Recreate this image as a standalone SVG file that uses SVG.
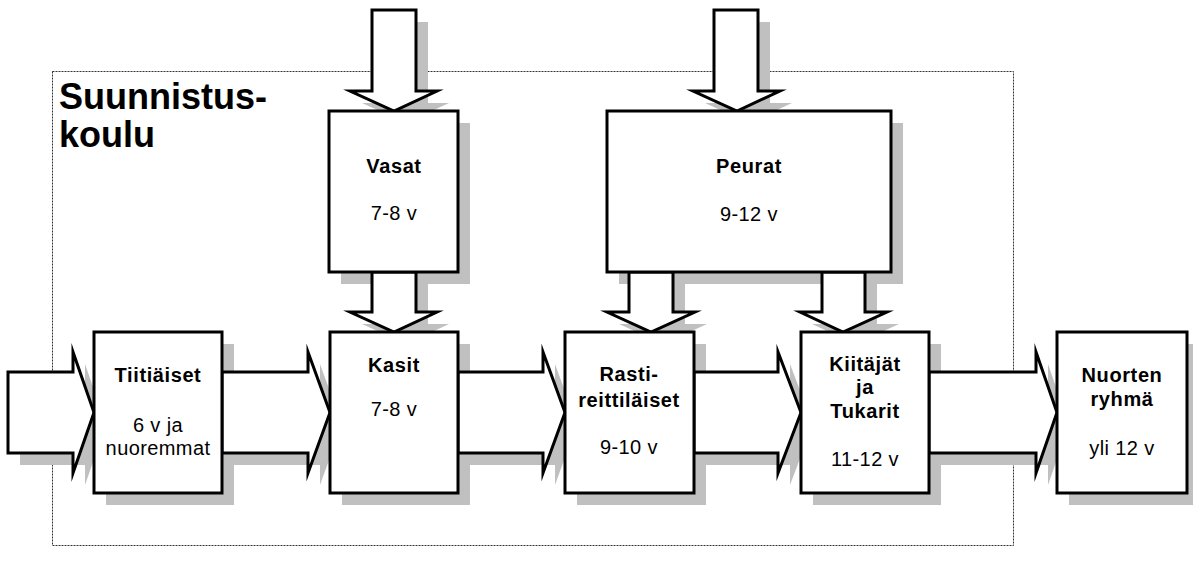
<svg xmlns="http://www.w3.org/2000/svg" width="1193" height="574" viewBox="0 0 1193 574">
<style>
.sh{fill:#c0c0c0;stroke:none}
.shape{fill:#fff;stroke:#000;stroke-width:3;stroke-linejoin:miter;stroke-miterlimit:10}
.name{font-family:"Liberation Sans",Arial,sans-serif;font-weight:bold;font-size:20px;text-anchor:middle;letter-spacing:0.6px}
.age{font-family:"Liberation Sans",Arial,sans-serif;font-size:20px;text-anchor:middle;letter-spacing:0.4px}
.title{font-family:"Liberation Sans",Arial,sans-serif;font-weight:bold;font-size:36px}
</style>
<defs>
<polygon id="hEntry" points="8,372 73,372 73,352 94,412.5 73,473 73,453 8,453"/>
<polygon id="h1" points="222,372 308,372 308,352 330,412.5 308,473 308,453 222,453"/>
<polygon id="h2" points="458,372 543,372 543,352 565,412.5 543,473 543,453 458,453"/>
<polygon id="h3" points="694,372 778,372 778,352 801,412.5 778,473 778,453 694,453"/>
<polygon id="h4" points="929,372 1036,372 1036,352 1057,412.5 1036,473 1036,453 929,453"/>
<polygon id="v1" points="372,10 416,10 416,91 437,91 394,111 350,91 372,91"/>
<polygon id="v2" points="372,272 416,272 416,312 437,312 394,332 350,312 372,312"/>
<polygon id="p1" points="714,10 758,10 758,91 780,91 737,111 693,91 714,91"/>
<polygon id="p2" points="629,272 673,272 673,312 695,312 651,332 607,312 629,312"/>
<polygon id="p3" points="822,272 865,272 865,312 887,312 843,332 800,312 822,312"/>
<rect id="bT" x="94" y="332" width="128" height="161"/>
<rect id="bK" x="330" y="332" width="128" height="161"/>
<rect id="bR" x="565" y="332" width="129" height="161"/>
<rect id="bKi" x="801" y="332" width="128" height="161"/>
<rect id="bN" x="1057" y="332" width="130" height="161"/>
<rect id="bV" x="329" y="111" width="129" height="161"/>
<rect id="bP" x="607" y="111" width="284" height="161"/>
</defs>

<rect x="52.5" y="71.5" width="961" height="474" fill="none" stroke="#333" stroke-width="1" stroke-dasharray="2,1"/>

<g id="shadows" transform="translate(12,12)">
<use href="#hEntry" class="sh"/><use href="#h1" class="sh"/><use href="#h2" class="sh"/><use href="#h3" class="sh"/><use href="#h4" class="sh"/>
<use href="#v1" class="sh"/><use href="#v2" class="sh"/><use href="#p1" class="sh"/><use href="#p2" class="sh"/><use href="#p3" class="sh"/>
<use href="#bT" class="sh"/><use href="#bK" class="sh"/><use href="#bR" class="sh"/><use href="#bKi" class="sh"/><use href="#bN" class="sh"/><use href="#bV" class="sh"/><use href="#bP" class="sh"/>
</g>

<g id="connectors">
<use href="#hEntry" class="shape"/><use href="#h1" class="shape"/><use href="#h2" class="shape"/><use href="#h3" class="shape"/><use href="#h4" class="shape"/>
<use href="#v1" class="shape"/><use href="#v2" class="shape"/><use href="#p1" class="shape"/><use href="#p2" class="shape"/><use href="#p3" class="shape"/>
</g>

<g id="tiitiaiset"><use href="#bT" class="shape"/>
<text class="name" x="158" y="382">Tiitiäiset</text>
<text class="age" x="158" y="432">6 v ja</text>
<text class="age" x="158" y="455">nuoremmat</text></g>

<g id="kasit"><use href="#bK" class="shape"/>
<text class="name" x="394" y="372">Kasit</text>
<text class="age" x="394" y="416">7-8 v</text></g>

<g id="rasti"><use href="#bR" class="shape"/>
<text class="name" x="629" y="381">Rasti-</text>
<text class="name" x="629" y="407">reittiläiset</text>
<text class="age" x="629" y="454">9-10 v</text></g>

<g id="kiitajat"><use href="#bKi" class="shape"/>
<text class="name" x="865" y="371">Kiitäjät</text>
<text class="name" x="865" y="394">ja</text>
<text class="name" x="865" y="418">Tukarit</text>
<text class="age" x="865" y="466">11-12 v</text></g>

<g id="nuorten"><use href="#bN" class="shape"/>
<text class="name" x="1122" y="382">Nuorten</text>
<text class="name" x="1122" y="406">ryhmä</text>
<text class="age" x="1122" y="455">yli 12 v</text></g>

<g id="vasat"><use href="#bV" class="shape"/>
<text class="name" x="394" y="173">Vasat</text>
<text class="age" x="394" y="220">7-8 v</text></g>

<g id="peurat"><use href="#bP" class="shape"/>
<text class="name" x="749" y="173">Peurat</text>
<text class="age" x="749" y="221">9-12 v</text></g>

<g id="title">
<text class="title" x="59" y="109">Suunnistus-</text>
<text class="title" x="59" y="147">koulu</text>
</g>
</svg>
